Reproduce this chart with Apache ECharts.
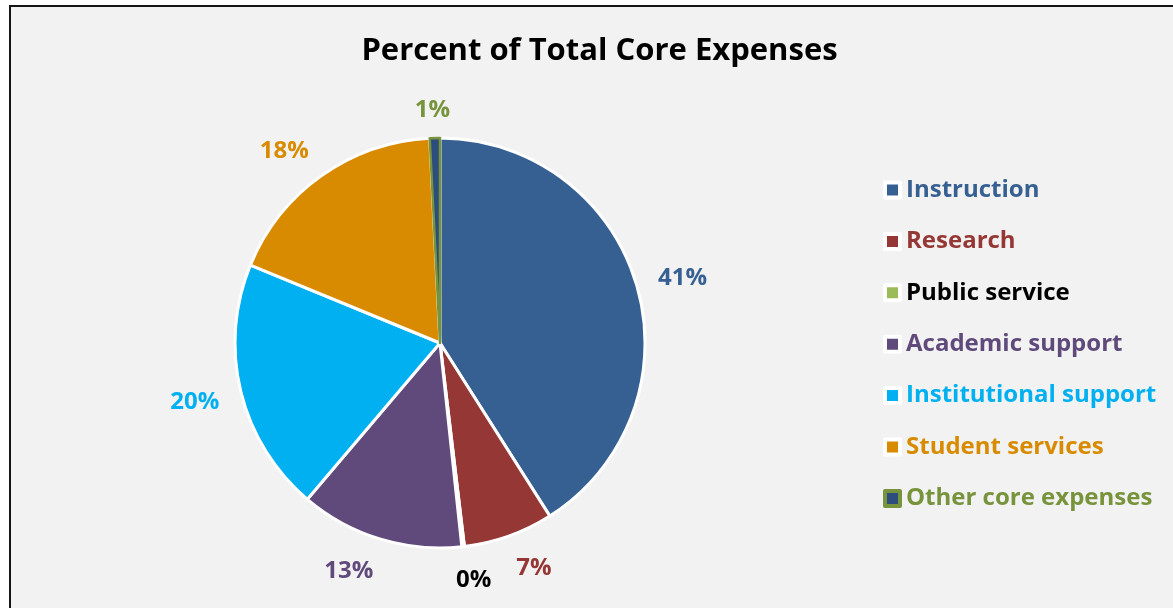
<!DOCTYPE html>
<html>
<head>
<meta charset="utf-8">
<script src="https://cdn.jsdelivr.net/npm/echarts@6/dist/echarts.min.js"></script>
<style>
html,body{margin:0;padding:0;background:#ffffff;overflow:hidden;width:1173px;height:608px;}
#frame{position:absolute;left:9px;top:5px;width:1177px;height:610px;border-left:2px solid #151515;border-top:2px solid #151515;background:#F2F2F2;}
#chart{width:1177px;height:610px;}
</style>
</head>
<body>
<div id="frame"><div id="chart"></div></div>
<script>
const categories = ['Instruction','Research','Public service','Academic support','Institutional support','Student services','Other core expenses'];
const values = [41.0, 7.1, 0.2, 12.9, 20.0, 18.0, 0.8];
const fillColors = ['#376092','#953735','#9BBB59','#604A7B','#00B0F0','#D98B00','#2C4D7D'];
const textColors = ['#376092','#953735','#000000','#604A7B','#00B0F0','#D98B00','#77933C'];
const titleText = 'Percent of Total Core Expenses';

const FONT = 'Open Sans';
const LABEL_SIZE = 24;
const LABEL_GAP = 22;
const chart = echarts.init(document.getElementById('chart'), null, {renderer:'canvas'});

const pieData = categories.map((name, i) => {
  const item = {
    name: name,
    value: values[i],
    itemStyle: {color: fillColors[i]},
    label: {color: textColors[i]}
  };
  if (name === 'Other core expenses') {
    item.itemStyle.borderColor = '#77933C';
    item.itemStyle.borderWidth = 2.5;
  }
  return item;
});

const legendData = categories.map((name, i) => {
  const d = {name: name, textStyle: {color: textColors[i]}};
  if (name === 'Other core expenses') d.itemStyle = {borderColor: '#77933C'};
  return d;
});

// Place each label outside the slice, like a spreadsheet "outside end" label:
// the glyph box touches a point just beyond the rim along the slice's mid direction.
function placeLabel(params) {
  const pts = params.labelLinePoints;
  const rect = params.labelRect;
  if (!pts || pts.length < 2) return {};
  const vx = pts[1][0] - pts[0][0], vy = pts[1][1] - pts[0][1];
  const len = Math.hypot(vx, vy) || 1;
  const dx = vx / len, dy = vy / len;
  const px = pts[0][0] + dx * LABEL_GAP, py = pts[0][1] + dy * LABEL_GAP;
  const clamp = v => Math.max(0, Math.min(1, v));
  const fx = clamp(0.5 - 2 * dx), fy = clamp(0.5 - 0.75 * dy);
  const glyphH = 0.72 * LABEL_SIZE;
  return {
    x: px + (0.5 - fx) * rect.width,
    y: py + (0.5 - fy) * glyphH + 2.5,
    align: 'center',
    verticalAlign: 'middle'
  };
}

chart.setOption({
  backgroundColor: '#F2F2F2',
  animation: false,
  title: {
    text: titleText,
    left: 'center',
    top: 24,
    textStyle: {fontFamily: FONT, fontWeight: 'bold', fontSize: 31, color: '#000'}
  },
  legend: {
    orient: 'vertical',
    left: 867,
    top: 165,
    itemWidth: 15,
    itemHeight: 15,
    itemGap: 25.4,
    icon: 'rect',
    itemStyle: {borderColor: '#ffffff', borderWidth: 4},
    textStyle: {fontFamily: FONT, fontWeight: 'bold', fontSize: 24, lineHeight: 26, padding: [0,0,0,1]},
    data: legendData
  },
  series: [{
    type: 'pie',
    center: [429, 336],
    radius: 205,
    startAngle: 90,
    clockwise: true,
    avoidLabelOverlap: false,
    itemStyle: {borderColor: '#ffffff', borderWidth: 3},
    label: {
      show: true,
      position: 'outside',
      fontFamily: FONT,
      fontWeight: 'bold',
      fontSize: LABEL_SIZE,
      distanceToLabelLine: 0,
      formatter: p => Math.round(p.percent) + '%'
    },
    labelLine: {show: true, length: 10, length2: 0, lineStyle: {opacity: 0, width: 0}},
    labelLayout: placeLabel,
    emphasis: {disabled: true},
    data: pieData
  }]
});
</script>
</body>
</html>
